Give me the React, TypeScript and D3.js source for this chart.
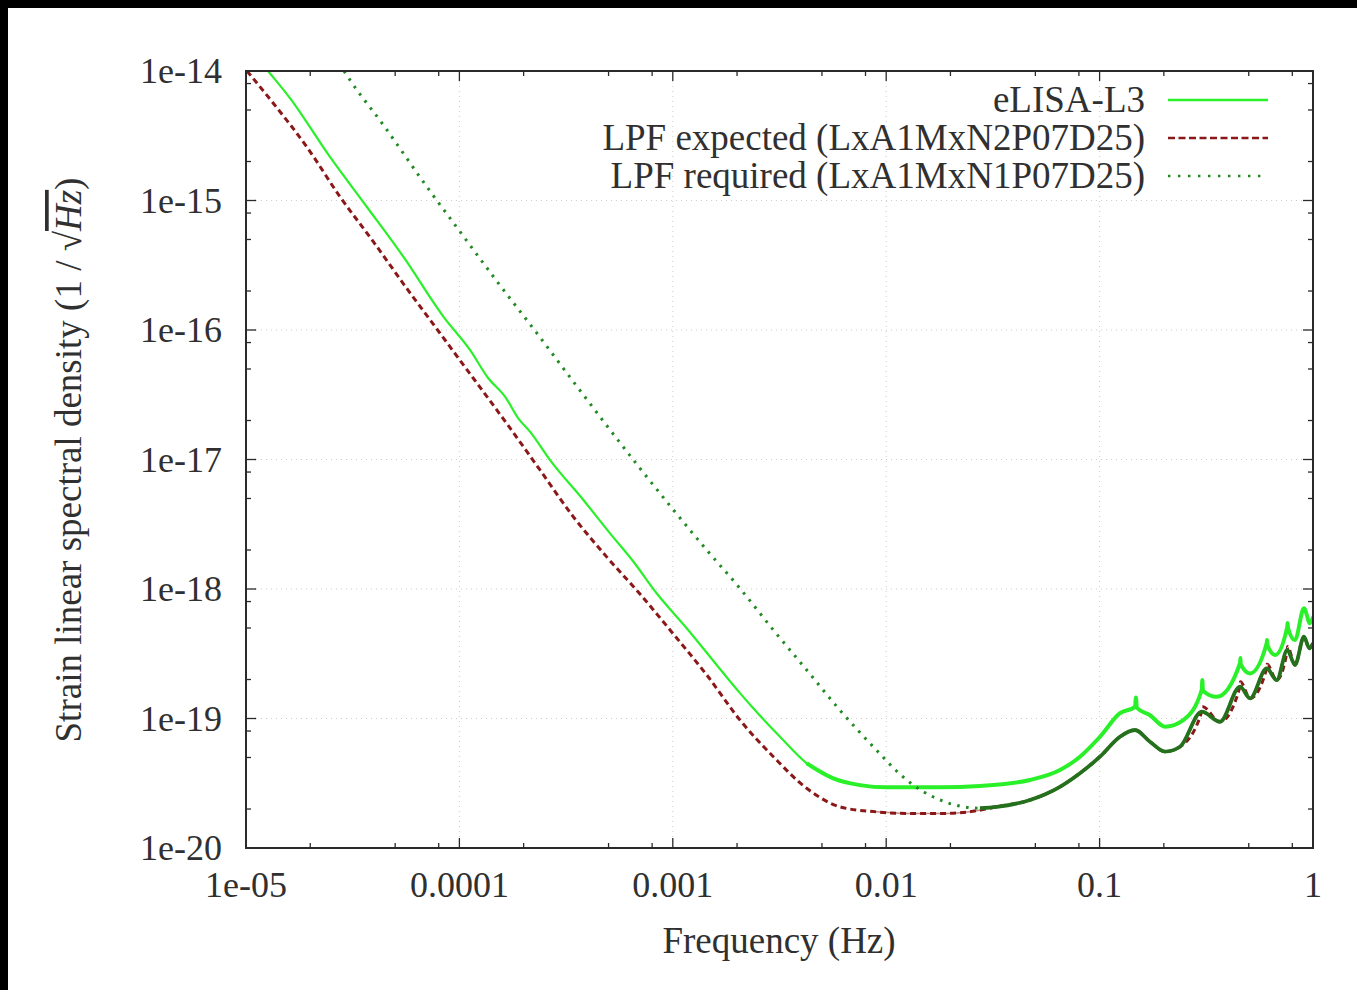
import React from 'react';
import * as d3 from 'd3';

// ---------- data ----------
const xTickValues = [1e-5, 1e-4, 1e-3, 1e-2, 1e-1, 1];
const xTickLabels = ['1e-05', '0.0001', '0.001', '0.01', '0.1', '1'];
const yTickValues = [1e-20, 1e-19, 1e-18, 1e-17, 1e-16, 1e-15, 1e-14];
const yTickLabels = ['1e-20', '1e-19', '1e-18', '1e-17', '1e-16', '1e-15', '1e-14'];
const minorMultipliers = [2, 5, 8];

const seriesNames = [
  'eLISA-L3',
  'LPF expected (LxA1MxN2P07D25)',
  'LPF required (LxA1MxN1P07D25)',
];

// eLISA-L3
const elisaFreq = [
  1.0e-5, 1.268e-5, 1.61e-5, 2.47e-5, 3.68e-5, 5.46e-5, 8.41e-5, 1.121e-4, 1.366e-4, 1.636e-4,
  1.888e-4, 2.142e-4, 2.66e-4, 3.81e-4, 5.08e-4, 6.53e-4, 8.4e-4, 1.162e-3, 1.606e-3, 2.065e-3,
  2.383e-3, 3.18e-3, 4.24e-3, 5.65e-3, 7.54e-3, 1.005e-2, 1.787e-2, 2.75e-2, 4.72e-2, 6.52e-2,
  8.09e-2, 0.1004, 0.1246, 0.1465, 0.148, 0.1495, 0.1722, 0.2025, 0.2467, 0.3009, 0.303, 0.305,
  0.3538, 0.4549, 0.457, 0.459, 0.5069, 0.6067, 0.609, 0.612, 0.6637, 0.7577, 0.76, 0.764,
  0.8233, 0.9073, 0.9681, 1.0,
];
const elisaAsd = [
  1.6e-14, 1.0e-14, 6.15e-15, 2.18e-15, 8.95e-16, 3.68e-16, 1.27e-16, 7.02e-17, 4.24e-17, 3.06e-17,
  2.08e-17, 1.64e-17, 9.9e-18, 4.87e-18, 2.69e-18, 1.63e-18, 9.27e-19, 4.98e-19, 2.59e-19, 1.57e-19,
  1.2e-19, 7.23e-20, 4.51e-20, 3.45e-20, 3.06e-20, 2.94e-20, 2.94e-20, 3.01e-20, 3.35e-20, 4.0e-20,
  5.07e-20, 7.23e-20, 1.1e-19, 1.23e-19, 1.45e-19, 1.21e-19, 1.06e-19, 8.65e-20, 9.72e-20, 1.66e-19, 1.98e-19, 1.64e-19,
  1.47e-19, 2.67e-19, 2.93e-19, 2.62e-19, 2.23e-19, 3.81e-19, 4.03e-19, 3.7e-19, 3.09e-19, 5.12e-19, 5.46e-19, 5.0e-19,
  4.03e-19, 7.1e-19, 5.43e-19, 6.11e-19,
];

// LPF expected
const expectedFreq = [
  1.011e-5, 1.342e-5, 1.925e-5, 2.757e-5, 3.95e-5, 5.66e-5, 8.11e-5, 1.162e-4, 1.665e-4, 2.386e-4,
  3.42e-4, 4.9e-4, 7.02e-4, 1.005e-3, 1.442e-3, 2.065e-3, 2.96e-3, 4.24e-3, 6.07e-3, 8.7e-3,
  1.247e-2, 1.92e-2, 2.75e-2, 3.3e-2, 4.72e-2, 6.52e-2, 8.09e-2, 0.1004, 0.1246, 0.1465,
  0.1722, 0.2025, 0.2381, 0.3009, 0.303, 0.3666, 0.4549, 0.457, 0.5069, 0.6067, 0.609, 0.6761,
  0.7577, 0.76, 0.8233, 0.9073, 0.9608, 1.0,
];
const expectedAsd = [
  1.0e-14, 5.64e-15, 2.6e-15, 1.07e-15, 4.81e-16, 2.1e-16, 9.44e-17, 4.24e-17, 1.9e-17, 8.3e-18,
  3.61e-18, 1.77e-18, 9.14e-19, 4.5e-19, 2.17e-19, 9.72e-20, 5.07e-20, 2.89e-20, 2.08e-20, 1.91e-20,
  1.85e-20, 1.85e-20, 1.96e-20, 2.08e-20, 2.35e-20, 2.97e-20, 3.78e-20, 5.07e-20, 7.23e-20, 8.15e-20,
  6.62e-20, 5.55e-20, 6.05e-20, 1.13e-19, 1.24e-19, 9.44e-20, 1.76e-19, 1.92e-19, 1.43e-19, 2.44e-19, 2.62e-19, 1.98e-19,
  3.38e-19, 3.6e-19, 2.59e-19, 4.28e-19, 3.48e-19, 3.81e-19,
];

// LPF required
const requiredFreq = [
  2.88e-5, 3.07e-5, 4.4e-5, 7.03e-5, 1.007e-4, 1.522e-4, 2.343e-4, 3.42e-4, 7.02e-4, 1.442e-3,
  2.065e-3, 2.96e-3, 4.24e-3, 6.07e-3, 8.7e-3, 1.247e-2, 1.787e-2, 2.75e-2, 3.3e-2, 4.72e-2,
  6.52e-2, 8.09e-2, 0.1004, 0.1246, 0.1465, 0.1722, 0.2025, 0.2381, 0.3009, 0.3666, 0.4549,
  0.5069, 0.6067, 0.6761, 0.7577, 0.8233, 0.9073, 0.9608, 1.0,
];
const requiredAsd = [
  1.0e-14, 8.52e-15, 3.83e-15, 1.28e-15, 5.74e-16, 2.3e-16, 9.14e-17, 3.99e-17, 8.55e-18, 2.0e-18,
  1.01e-18, 4.82e-19, 2.37e-19, 1.16e-19, 6.05e-20, 3.35e-20, 2.35e-20, 2.03e-20, 2.08e-20, 2.35e-20,
  2.97e-20, 3.78e-20, 5.07e-20, 7.23e-20, 8.15e-20, 6.62e-20, 5.55e-20, 6.05e-20, 1.13e-19, 9.44e-20, 1.76e-19,
  1.43e-19, 2.44e-19, 1.98e-19, 3.38e-19, 2.59e-19, 4.28e-19, 3.48e-19, 3.81e-19,
];

// ---------- layout ----------
const W = 1357;
const H = 990;
const L = 246, R = 1313, T = 71, B = 848;
const FONT = '"Liberation Serif", "Times New Roman", Times, serif';
const FS = 36;
const FS_TITLE = 37;
const TXT = '#303030';

const COL_GREEN = '#2af02a';
const COL_RED = '#8b1818';
const COL_DGREEN = '#238a23';
const COL_DGREEN_DARK = '#25701c';

type Pt = [number, number];
const zip = (a: number[], b: number[]): Pt[] => a.map((v, i) => [v, b[i]] as Pt);

export default function App() {
  const x = d3.scaleLog().domain([1e-5, 1]).range([L, R]);
  const y = d3.scaleLog().domain([1e-20, 1e-14]).range([B, T]);
  const line = d3
    .line<Pt>()
    .x((d) => x(d[0]))
    .y((d) => y(d[1]))
    .curve(d3.curveMonotoneX);

  const elisa = zip(elisaFreq, elisaAsd);
  const expected = zip(expectedFreq, expectedAsd);
  const required = zip(requiredFreq, requiredAsd);

  const xMinor: number[] = [];
  xTickValues.slice(0, -1).forEach((v) => minorMultipliers.forEach((m) => xMinor.push(v * m)));
  const yMinor: number[] = [];
  yTickValues.slice(0, -1).forEach((v) => minorMultipliers.forEach((m) => yMinor.push(v * m)));

  const axisCol = '#2a2a2a';
  const legendY = [100, 138, 176];

  return (
    <>
      <style>{`html,body{background:#000;overflow:hidden;margin:0;padding:0}`}</style>
      <svg
        width={W - 8}
        height={H - 8}
        style={{ display: 'block', position: 'absolute', left: 8, top: 8 }}
      >
        <g transform="translate(-8,-8)">
          <rect x={8} y={8} width={W} height={H} fill="#fff" />
          <defs>
            <clipPath id="plotclip">
              <rect x={L} y={T} width={R - L} height={B - T} />
            </clipPath>
          </defs>

          {/* grid */}
          {xTickValues.slice(1, -1).map((v, i) => (
            <line key={'gx' + i} x1={x(v)} x2={x(v)} y1={T} y2={B} stroke="#cccccc" strokeWidth={1} strokeDasharray="1,4" />
          ))}
          {yTickValues.slice(1, -1).map((v, i) => (
            <line key={'gy' + i} x1={L} x2={R} y1={y(v)} y2={y(v)} stroke="#cccccc" strokeWidth={1} strokeDasharray="1,4" />
          ))}

          {/* curves */}
          <g clipPath="url(#plotclip)" fill="none" strokeLinejoin="round">
            <path d={line(elisa) || ''} stroke={COL_GREEN} strokeWidth={2.2} />
            <path d={line(elisa.filter((d) => d[0] >= 4e-3)) || ''} stroke={COL_GREEN} strokeWidth={4} />
            <path d={line(expected) || ''} stroke={COL_RED} strokeWidth={3} strokeDasharray="6,4" />
            <path d={line(expected.filter((d) => d[0] >= 8e-3 && d[0] <= 3e-2)) || ''} stroke={COL_RED} strokeWidth={1.5} strokeOpacity={0.5} />
            <path d={line(required) || ''} stroke={COL_DGREEN} strokeWidth={3} strokeDasharray="2.6,6.4" />
            <path d={line(required.filter((d) => d[0] >= 2.6e-2)) || ''} stroke={COL_DGREEN_DARK} strokeWidth={3.8} />
          </g>

          {/* ticks */}
          <g stroke={axisCol} strokeWidth={1.3}>
            {xTickValues.map((v, i) => (
              <g key={'xt' + i}>
                <line x1={x(v)} x2={x(v)} y1={B} y2={B - 10} />
                <line x1={x(v)} x2={x(v)} y1={T} y2={T + 10} />
              </g>
            ))}
            {xMinor.map((v, i) => (
              <g key={'xm' + i}>
                <line x1={x(v)} x2={x(v)} y1={B} y2={B - 5} />
                <line x1={x(v)} x2={x(v)} y1={T} y2={T + 5} />
              </g>
            ))}
            {yTickValues.map((v, i) => (
              <g key={'yt' + i}>
                <line x1={L} x2={L + 10} y1={y(v)} y2={y(v)} />
                <line x1={R} x2={R - 10} y1={y(v)} y2={y(v)} />
              </g>
            ))}
            {yMinor.map((v, i) => (
              <g key={'ym' + i}>
                <line x1={L} x2={L + 5} y1={y(v)} y2={y(v)} />
                <line x1={R} x2={R - 5} y1={y(v)} y2={y(v)} />
              </g>
            ))}
          </g>

          {/* frame */}
          <rect x={L} y={T} width={R - L} height={B - T} fill="none" stroke={axisCol} strokeWidth={2} />

          {/* tick labels */}
          <g fontFamily={FONT} fontSize={FS} fill={TXT}>
            {xTickValues.map((v, i) => (
              <text key={'xl' + i} x={x(v)} y={897} textAnchor="middle">
                {xTickLabels[i]}
              </text>
            ))}
            {yTickValues.map((v, i) => (
              <text key={'yl' + i} x={222} y={y(v) + 12} textAnchor="end">
                {yTickLabels[i]}
              </text>
            ))}
          </g>

          {/* axis titles */}
          <text x={779} y={953} textAnchor="middle" fontFamily={FONT} fontSize={FS_TITLE} fill={TXT}>
            Frequency (Hz)
          </text>
          <text
            transform={`translate(81,460) rotate(-90)`}
            textAnchor="middle"
            fontFamily={FONT}
            fontSize={FS_TITLE}
            fill={TXT}
          >
            Strain linear spectral density (1 / √
            <tspan fontStyle="italic" style={{ textDecoration: 'overline' }}>Hz</tspan>)
          </text>

          {/* legend */}
          <g fontFamily={FONT} fontSize={FS_TITLE} fill={TXT}>
            {seriesNames.map((n, i) => (
              <text key={'lg' + i} x={1145} y={legendY[i] + 12} textAnchor="end">
                {n}
              </text>
            ))}
          </g>
          <line x1={1168} x2={1268} y1={legendY[0]} y2={legendY[0]} stroke={COL_GREEN} strokeWidth={2.6} />
          <line x1={1168} x2={1268} y1={legendY[1]} y2={legendY[1]} stroke={COL_RED} strokeWidth={2.4} strokeDasharray="7,3.5" />
          <line x1={1168} x2={1268} y1={legendY[2]} y2={legendY[2]} stroke={COL_DGREEN} strokeWidth={2.6} strokeDasharray="2.4,7.6" />
        </g>
      </svg>
    </>
  );
}
